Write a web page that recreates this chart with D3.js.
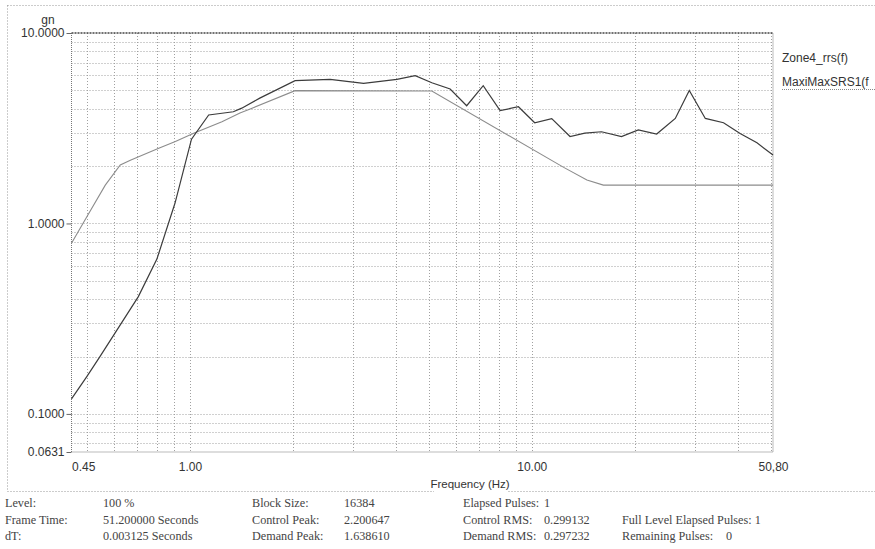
<!DOCTYPE html>
<html>
<head>
<meta charset="utf-8">
<script src="https://cdn.jsdelivr.net/npm/d3@7"></script>
<style>
  body { margin: 0; background: #fff; }
  svg { display: block; }
  .tick-label { font-family: "Liberation Sans", Arial, sans-serif; font-size: 12px; fill: #333; }
  .status { font-family: "Liberation Serif", "Times New Roman", serif; font-size: 12.2px; fill: #444; }
</style>
</head>
<body>
<div id="chart"></div>
<script>
`use strict`;

// axis ticks (labels as printed)
const freqTicks = [0.45, 1, 10, 50.8];
const freqTickLabels = ['0.45', '1.00', '10.00', '50,80'];
const levelTicks = [10, 1, 0.1, 0.0631];
const levelTickLabels = ['10.0000', '1.0000', '0.1000', '0.0631'];

// requirement curve (light)
const rrsFreq  = [0.45, 0.5, 0.565, 0.625, 0.669, 0.81, 0.906, 1.025, 1.24, 1.40, 1.5, 2.03, 5.1, 12.4, 14.5, 16.2, 50.8];
const rrsLevel = [0.787, 1.09, 1.59, 2.03, 2.15, 2.48, 2.69, 2.98, 3.42, 3.80, 3.99, 4.98, 4.96, 1.97, 1.69, 1.59, 1.59];

// measured SRS curve (dark)
const srsFreq  = [0.45, 0.5, 0.545, 0.706, 0.8, 0.904, 1.01, 1.134, 1.24, 1.339, 1.417, 1.6, 2.03, 2.57, 3.22, 4.03, 4.56, 5.1, 5.77, 6.45, 7.21, 8.08, 9.14, 10.2, 11.44, 12.94, 14.3, 16.0, 18.3, 20.5, 23.2, 26.3, 28.9, 32.2, 36.4, 40.7, 45.6, 50.8];
const srsLevel = [0.12, 0.158, 0.2, 0.413, 0.65, 1.28, 2.77, 3.71, 3.79, 3.86, 4.03, 4.55, 5.62, 5.71, 5.44, 5.71, 5.97, 5.48, 5.08, 4.15, 5.29, 3.91, 4.10, 3.38, 3.55, 2.86, 2.98, 3.03, 2.86, 3.10, 2.95, 3.56, 4.99, 3.56, 3.38, 2.97, 2.65, 2.29];

const legendNames = ['Zone4_rrs(f)', 'MaxiMaxSRS1(f'];

// status block under the chart, one list per column
const statusLabels = [
    ['Level:', 'Frame Time:', 'dT:'],
    ['Block Size:', 'Control Peak:', 'Demand Peak:'],
    ['Elapsed Pulses:', 'Control RMS:', 'Demand RMS:'],
    ['', 'Full Level Elapsed Pulses: 1', 'Remaining Pulses:']
];
const statusValues = [
    ['100 %', '51.200000 Seconds', '0.003125 Seconds'],
    ['16384', '2.200647', '1.638610'],
    ['1', '0.299132', '0.297232'],
    ['', '', '0']
];

let w = 875, h = 549;
let plot = {left: 71.5, right: 773, top: 33, bottom: 452};

let svg = d3.select('#chart').append('svg')
    .attr('width', w).attr('height', h);

let x = d3.scaleLog().domain([0.45, 50.8]).range([plot.left, plot.right]);
let y = d3.scaleLog().domain([0.0631, 10]).range([plot.bottom, plot.top]);

//outer dotted frame
svg.append('rect')
    .attr('x', 7.5).attr('y', 5.5).attr('width', 872).attr('height', 486)
    .attr('fill', 'none').attr('stroke', '#999').attr('stroke-dasharray', '1,2');

//grid
let grid = svg.append('g').attr('stroke', '#a0a0a0').attr('stroke-dasharray', '1,2').attr('stroke-width', 1);
grid.selectAll('.vgrid').data(x.ticks().filter(d => d > 0.45 && d < 50.8))
    .enter().append('line').classed('vgrid', true)
    .attr('x1', d => Math.round(x(d)) + 0.5).attr('x2', d => Math.round(x(d)) + 0.5)
    .attr('y1', plot.top).attr('y2', plot.bottom);
grid.selectAll('.hgrid').data(y.ticks().filter(d => d > 0.0631 && d < 10))
    .enter().append('line').classed('hgrid', true)
    .attr('y1', d => Math.round(y(d)) + 0.5).attr('y2', d => Math.round(y(d)) + 0.5)
    .attr('x1', plot.left).attr('x2', plot.right);

//plot border
let border = svg.append('g').attr('fill', 'none');
border.append('path')
    .attr('d', `M${plot.left},${plot.top}V${plot.bottom}H${plot.right}V${plot.top}`)
    .attr('stroke', '#777').attr('stroke-dasharray', '1,1');
border.append('line')
    .attr('x1', plot.left).attr('x2', plot.right).attr('y1', plot.top).attr('y2', plot.top)
    .attr('stroke', '#444').attr('stroke-width', 1.6).attr('stroke-dasharray', '2,1');

//y axis labels
let yAxis = d3.axisLeft(y).tickValues(levelTicks)
    .tickFormat((d, i) => levelTickLabels[i]).tickSize(5).tickPadding(2);
let yg = svg.append('g').attr('transform', `translate(${plot.left},0)`).call(yAxis);
yg.select('.domain').remove();
yg.selectAll('line').attr('stroke', '#666');
yg.selectAll('text').attr('class', 'tick-label').attr('font-family', null).attr('font-size', null);

svg.append('text').classed('tick-label', true)
    .attr('x', 48).attr('y', 24).attr('text-anchor', 'middle').text('gn');

//x axis labels
let xAxis = d3.axisBottom(x).tickValues(freqTicks)
    .tickFormat((d, i) => freqTickLabels[i]).tickSize(0).tickPadding(10);
let xg = svg.append('g').attr('transform', `translate(0,${plot.bottom})`).call(xAxis);
xg.select('.domain').remove();
xg.selectAll('text').attr('class', 'tick-label').attr('font-family', null).attr('font-size', null);
xg.selectAll('text').filter((d, i) => i === 0).attr('text-anchor', 'start');

svg.append('rect').attr('x', 434).attr('y', 476).attr('width', 74).attr('height', 18).attr('fill', '#fff');
svg.append('text').classed('tick-label', true)
    .attr('x', 470).attr('y', 488).attr('text-anchor', 'middle')
    .style('font-size', '11.5px').text('Frequency (Hz)');

//curves
let line = d3.line().x(d => x(d[0])).y(d => y(d[1]));
let rrs = rrsFreq.map((f, i) => [f, rrsLevel[i]]);
let srs = srsFreq.map((f, i) => [f, srsLevel[i]]);

svg.append('path').datum(rrs)
    .attr('fill', 'none').attr('stroke', '#8c8c8c').attr('stroke-width', 1.1)
    .attr('d', line);
svg.append('path').datum(srs)
    .attr('fill', 'none').attr('stroke', '#3c3c3c').attr('stroke-width', 1.2)
    .attr('d', line);

//legend
let legend = svg.append('g').attr('transform', 'translate(782,0)');
legendNames.forEach((name, i) => {
    legend.append('text').classed('tick-label', true)
        .attr('x', 0).attr('y', 62 + i * 24).text(name);
});
legend.append('line').attr('x1', 0).attr('x2', 95).attr('y1', 89.5).attr('y2', 89.5)
    .attr('stroke', '#888').attr('stroke-dasharray', '1,1');

//status block: [label x, value x] per column
let colX = [[5, 103], [252, 344], [463, 544], [622, 726]];
let rowY = [507, 524, 540];
statusLabels.forEach((col, c) => {
    col.forEach((label, r) => {
        svg.append('text').classed('status', true)
            .attr('x', colX[c][0]).attr('y', rowY[r]).text(label);
        svg.append('text').classed('status', true)
            .attr('x', colX[c][1]).attr('y', rowY[r]).text(statusValues[c][r]);
    });
});
</script>
</body>
</html>
